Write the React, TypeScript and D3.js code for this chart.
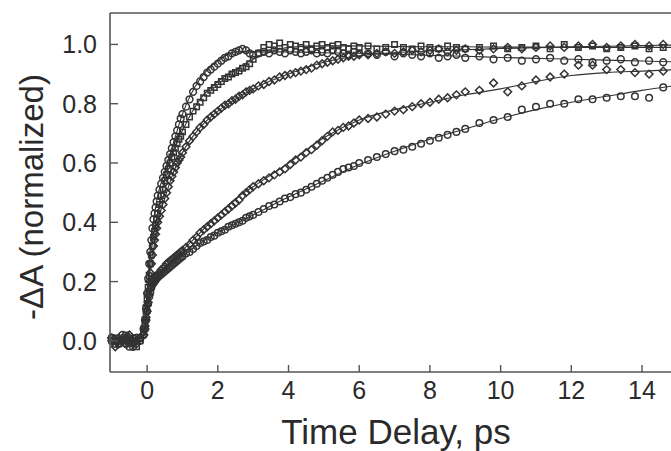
import React from "react";
import * as d3 from "d3";

const T = [-1.0,-0.9,-0.8,-0.7,-0.6,-0.5,-0.4,-0.3,-0.2,-0.1,
-0.06,-0.03,0,0.03,0.06,0.09,0.12,0.15,0.18,0.21,0.24,0.27,0.3,
0.35,0.4,0.45,0.5,0.55,0.6,0.65,0.7,0.75,0.8,0.85,0.9,0.95,1.0,
1.1,1.2,1.3,1.4,1.5,1.6,1.7,1.8,1.9,2.0,2.1,2.2,2.3,2.4,2.5,2.6,2.7,2.8,2.9,3.0,
3.15,3.3,3.45,3.6,3.75,3.9,4.05,4.2,4.35,4.5,4.65,4.8,4.95,5.1,5.25,5.4,5.55,5.7,5.85,6.0,
6.25,6.5,6.75,7.0,7.25,7.5,7.75,8.0,8.25,8.5,8.75,9.0,
9.4,9.8,10.2,10.6,11.0,11.4,11.8,12.2,12.6,13.0,13.4,13.8,14.2,14.6];

const SERIES_A = [0.01,-0.01,0.0,0.02,-0.01,0.0,-0.02,0.01,0.01,0.04,
0.07,0.11,0.16,0.21,0.26,0.3,0.34,0.38,0.41,0.43,0.45,0.47,0.49,
0.51,0.53,0.55,0.57,0.59,0.61,0.63,0.65,0.67,0.69,0.71,0.73,0.75,0.765,
0.79,0.815,0.84,0.86,0.875,0.89,0.905,0.915,0.925,0.935,0.945,0.955,0.96,0.97,0.975,0.98,0.985,0.98,0.97,0.965,
0.97,0.975,0.97,0.98,0.975,0.97,0.98,0.975,0.97,0.975,0.98,0.97,0.975,0.97,0.98,0.975,0.97,0.965,0.975,0.97,
0.97,0.965,0.975,0.96,0.97,0.965,0.96,0.97,0.955,0.96,0.965,0.955,
0.96,0.95,0.955,0.945,0.95,0.955,0.945,0.95,0.94,0.945,0.95,0.94,0.945,0.94];

const SERIES_B = [0.0,0.01,-0.01,0.0,0.02,-0.01,0.01,-0.02,0.0,0.03,
0.06,0.1,0.14,0.18,0.22,0.26,0.29,0.32,0.35,0.37,0.39,0.41,0.43,
0.46,0.49,0.51,0.54,0.56,0.58,0.6,0.62,0.635,0.65,0.665,0.68,0.69,0.705,
0.73,0.755,0.775,0.79,0.805,0.82,0.835,0.845,0.855,0.865,0.875,0.885,0.89,0.9,0.905,0.91,0.92,0.925,0.935,0.95,
0.97,0.99,1.0,0.995,1.005,0.99,1.0,0.995,0.99,1.0,0.985,0.995,1.0,0.99,0.995,1.0,0.99,0.985,0.995,0.99,
0.995,0.985,0.99,1.0,0.99,0.985,0.995,0.99,0.985,0.995,0.99,0.985,
0.99,0.995,0.985,0.99,0.995,0.985,1.0,0.99,0.995,0.985,0.99,0.995,0.985,0.99];

const SERIES_C = [0.01,0.0,-0.01,0.01,0.0,0.02,-0.01,0.0,0.01,0.02,
0.05,0.08,0.12,0.16,0.2,0.23,0.26,0.29,0.32,0.34,0.36,0.38,0.4,
0.42,0.44,0.46,0.48,0.5,0.52,0.54,0.555,0.57,0.585,0.6,0.61,0.62,0.635,
0.655,0.675,0.69,0.705,0.72,0.73,0.745,0.755,0.765,0.775,0.785,0.795,0.8,0.81,0.815,0.825,0.83,0.84,0.845,0.85,
0.86,0.865,0.875,0.88,0.89,0.895,0.9,0.905,0.91,0.915,0.92,0.93,0.935,0.94,0.945,0.95,0.955,0.96,0.96,0.965,
0.965,0.97,0.975,0.97,0.975,0.98,0.975,0.98,0.985,0.975,0.98,0.985,
0.98,0.985,0.99,0.985,0.99,0.995,0.99,0.995,1.0,0.99,0.995,1.0,0.995,1.0];

const SERIES_D = [0.0,-0.02,0.01,0.0,-0.01,0.01,0.0,-0.01,0.01,0.02,
0.04,0.07,0.1,0.13,0.155,0.175,0.19,0.2,0.205,0.21,0.215,0.22,0.225,
0.23,0.24,0.245,0.25,0.26,0.265,0.27,0.275,0.28,0.285,0.29,0.295,0.3,0.305,
0.315,0.325,0.34,0.35,0.365,0.375,0.385,0.395,0.405,0.415,0.425,0.435,0.445,0.455,0.465,0.475,0.49,0.5,0.51,0.52,
0.53,0.54,0.55,0.56,0.57,0.58,0.595,0.61,0.62,0.635,0.645,0.66,0.675,0.69,0.705,0.71,0.72,0.725,0.735,0.745,
0.75,0.755,0.765,0.775,0.78,0.79,0.8,0.805,0.815,0.82,0.83,0.84,
0.845,0.87,0.84,0.86,0.88,0.89,0.9,0.93,0.93,0.915,0.915,0.905,0.9,0.91];

const SERIES_E = [0.01,0.0,-0.01,0.0,0.01,-0.02,0.0,0.01,0.0,0.02,
0.04,0.07,0.1,0.125,0.15,0.165,0.18,0.19,0.195,0.2,0.205,0.21,0.215,
0.22,0.225,0.23,0.235,0.24,0.245,0.25,0.255,0.26,0.265,0.27,0.275,0.28,0.285,
0.295,0.3,0.31,0.32,0.33,0.335,0.34,0.35,0.355,0.365,0.37,0.375,0.385,0.39,0.395,0.4,0.405,0.415,0.42,0.425,
0.435,0.445,0.455,0.46,0.47,0.48,0.485,0.495,0.5,0.51,0.52,0.53,0.54,0.55,0.56,0.57,0.58,0.585,0.59,0.6,
0.61,0.62,0.63,0.64,0.645,0.655,0.665,0.675,0.685,0.695,0.705,0.715,
0.735,0.745,0.755,0.78,0.79,0.8,0.8,0.815,0.815,0.82,0.825,0.825,0.82,0.855];

const FIT_T = [-1, -0.15, -0.05, 0, 0.05, 0.1, 0.15, 0.2, 0.3, 0.5, 0.75, 1, 1.5, 2, 2.5, 3, 4, 5, 6, 7, 8, 9, 10, 11, 12, 13, 14, 15];
const FIT_A = [0,0,0.07,0.16,0.25,0.32,0.38,0.42,0.49,0.57,0.67,0.765,0.885,0.945,0.975,0.975,0.975,0.972,0.97,0.967,0.963,0.96,0.956,0.953,0.95,0.947,0.944,0.941];
const FIT_B = [0,0,0.06,0.14,0.22,0.29,0.33,0.37,0.43,0.55,0.645,0.71,0.815,0.875,0.915,0.95,0.99,0.995,0.995,0.993,0.992,0.992,0.991,0.991,0.99,0.99,0.99,0.99];
const FIT_C = [0,0,0.05,0.12,0.2,0.25,0.29,0.32,0.4,0.48,0.57,0.635,0.72,0.775,0.815,0.85,0.9,0.94,0.962,0.972,0.978,0.982,0.986,0.989,0.992,0.994,0.996,0.998];
const FIT_D = [0,0,0.05,0.1,0.145,0.18,0.195,0.205,0.225,0.25,0.275,0.305,0.365,0.425,0.48,0.52,0.6,0.685,0.745,0.78,0.805,0.83,0.85,0.875,0.895,0.905,0.91,0.915];
const FIT_E = [0,0,0.05,0.1,0.14,0.17,0.185,0.2,0.215,0.235,0.26,0.285,0.33,0.365,0.395,0.425,0.485,0.54,0.595,0.64,0.68,0.715,0.75,0.78,0.805,0.825,0.845,0.862];

const X_TICKS = [0, 2, 4, 6, 8, 10, 12, 14];
const Y_TICKS = [0.0, 0.2, 0.4, 0.6, 0.8, 1.0];
const X_LABEL = "Time Delay, ps";
const Y_LABEL = "-\u0394A (normalized)";

const W = 671, H = 451;
const FONT = "'Liberation Sans', Arial, Helvetica, sans-serif";
const INK = "#333";

export default function App() {
  const x = d3.scaleLinear().domain([-1.05, 14.82]).range([110, 671]);
  const y = d3.scaleLinear().domain([-0.105, 1.106]).range([372, 13]);

  const series = [
    { vals: SERIES_A, fit: FIT_A, shape: d3.symbolCircle, rot: 0, size: 36 },
    { vals: SERIES_B, fit: FIT_B, shape: d3.symbolSquare, rot: 0, size: 30 },
    { vals: SERIES_C, fit: FIT_C, shape: d3.symbolSquare, rot: 45, size: 30 },
    { vals: SERIES_D, fit: FIT_D, shape: d3.symbolSquare, rot: 45, size: 30 },
    { vals: SERIES_E, fit: FIT_E, shape: d3.symbolCircle, rot: 0, size: 34 },
  ];

  const line = d3.line<number>()
    .x((_, i) => x(FIT_T[i]))
    .y((v) => y(v))
    .curve(d3.curveMonotoneX);

  const left = x.range()[0];
  const bottom = y.range()[0];
  const top = y.range()[1];

  return (
    <svg width={W} height={H} style={{ position: "absolute", left: 0, top: 0, background: "#fff" }}>
      <rect x={0} y={0} width={W} height={H} fill="#fff" />
      {series.map((s, si) => (
        <path key={"f" + si} d={line(s.fit) || ""} fill="none" stroke={INK} strokeWidth={1.1} />
      ))}
      {series.map((s, si) => {
        const p = d3.symbol().type(s.shape).size(s.size)() || "";
        return (
          <g key={"s" + si}>
            {s.vals.map((v, i) => (
              <path key={i} d={p} transform={`translate(${x(T[i])},${y(v)}) rotate(${s.rot})`} fill="none" stroke={INK} strokeWidth={1.5} />
            ))}
          </g>
        );
      })}
      <line x1={left} x2={W} y1={top} y2={top} stroke="#555" strokeWidth={1.6} />
      <line x1={left} x2={left} y1={top} y2={bottom} stroke="#555" strokeWidth={1.6} />
      <line x1={left} x2={W} y1={bottom} y2={bottom} stroke="#555" strokeWidth={1.6} />
      {X_TICKS.map((t) => (
        <g key={"xt" + t}>
          <line x1={x(t)} x2={x(t)} y1={bottom} y2={bottom - 7} stroke="#555" strokeWidth={1.4} />
          <text x={x(t)} y={399} textAnchor="middle" fontFamily={FONT} fontSize={25} fill="#2a2a2a">{t}</text>
        </g>
      ))}
      {Y_TICKS.map((t) => (
        <g key={"yt" + t}>
          <line x1={left} x2={left + 8} y1={y(t)} y2={y(t)} stroke="#555" strokeWidth={1.4} />
          <text x={97} y={y(t) + 9} textAnchor="end" fontFamily={FONT} fontSize={25} fill="#2a2a2a">{t.toFixed(1)}</text>
        </g>
      ))}
      <text x={396} y={444} textAnchor="middle" fontFamily={FONT} fontSize={35} fill="#2a2a2a">{X_LABEL}</text>
      <text transform={`translate(43,197) rotate(-90)`} textAnchor="middle" fontFamily={FONT} fontSize={33} fill="#2a2a2a">{Y_LABEL}</text>
    </svg>
  );
}
